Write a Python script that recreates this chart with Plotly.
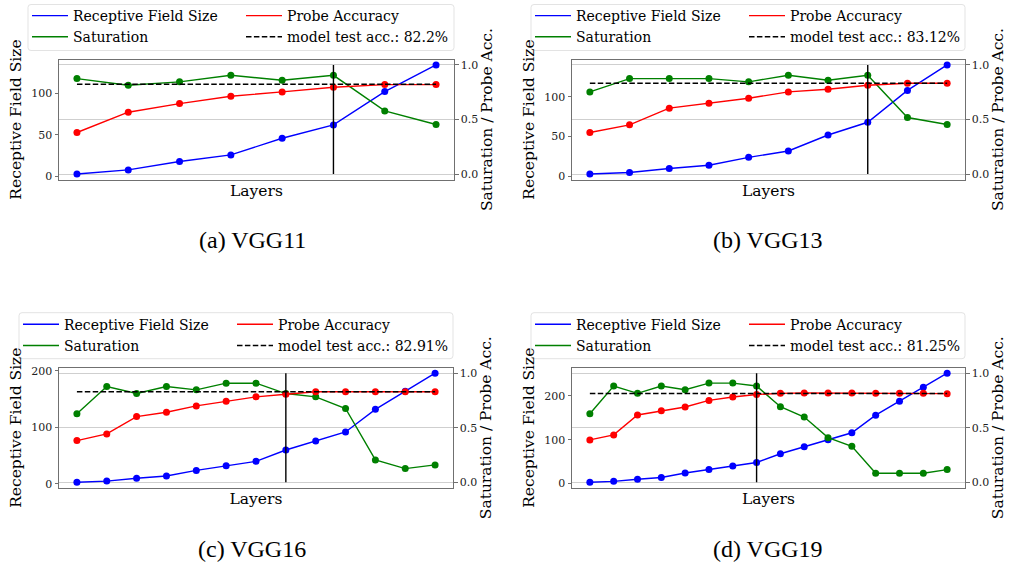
import plotly.graph_objects as go

# ---------------- data ----------------
model_names = ["VGG11", "VGG13", "VGG16", "VGG19"]
captions = ["(a) VGG11", "(b) VGG13", "(c) VGG16", "(d) VGG19"]

rf_vgg11 = [3, 8, 18, 26, 46, 62, 102, 134]
sat_vgg11 = [0.875, 0.814, 0.845, 0.905, 0.860, 0.905, 0.579, 0.454]
acc_vgg11 = [0.381, 0.567, 0.646, 0.713, 0.753, 0.796, 0.820, 0.820]

rf_vgg13 = [3, 5, 10, 14, 24, 32, 52, 68, 108, 140]
sat_vgg13 = [0.753, 0.875, 0.875, 0.875, 0.845, 0.905, 0.860, 0.905, 0.518, 0.454]
acc_vgg13 = [0.381, 0.451, 0.604, 0.649, 0.695, 0.753, 0.777, 0.814, 0.832, 0.832]

rf_vgg16 = [3, 5, 10, 14, 24, 32, 40, 60, 76, 92, 132, 164, 196]
sat_vgg16 = [0.627, 0.878, 0.813, 0.878, 0.847, 0.908, 0.908, 0.813, 0.783, 0.676, 0.205, 0.125, 0.159]
acc_vgg16 = [0.382, 0.443, 0.602, 0.642, 0.700, 0.743, 0.783, 0.807, 0.829, 0.829, 0.829, 0.829, 0.829]

rf_vgg19 = [3, 5, 10, 14, 24, 32, 40, 48, 68, 84, 100, 116, 156, 188, 220, 252]
sat_vgg19 = [0.628, 0.882, 0.815, 0.882, 0.848, 0.909, 0.909, 0.882, 0.692, 0.598, 0.409, 0.330, 0.082, 0.082, 0.082, 0.116]
acc_vgg19 = [0.388, 0.434, 0.617, 0.656, 0.690, 0.750, 0.781, 0.805, 0.815, 0.818, 0.818, 0.818, 0.815, 0.815, 0.815, 0.812]

test_acc = [0.822, 0.8312, 0.8291, 0.8125]
test_acc_labels = ["82.2%", "83.12%", "82.91%", "81.25%"]
cut_layer = [5, 7, 7, 7]
cut_span = [0.0, 1.0]

left_ticks = [[0, 50, 100], [0, 50, 100], [0, 100, 200], [0, 100, 200]]
right_ticks = [0.0, 0.5, 1.0]
right_tick_text = ["0.0", "0.5", "1.0"]

rf_all = [rf_vgg11, rf_vgg13, rf_vgg16, rf_vgg19]
sat_all = [sat_vgg11, sat_vgg13, sat_vgg16, sat_vgg19]
acc_all = [acc_vgg11, acc_vgg13, acc_vgg16, acc_vgg19]

# ---------------- layout (pixels) ----------------
W, H = 1009, 565
BLUE, GREEN, RED = "#0000ff", "#008000", "#ff0000"
FRAME = "#707070"
GRID = "#cfcfcf"
SERIF = "DejaVu Serif"

panel_px = [
    dict(x0=59, x1=454, y0=59.5, y1=179.5, leg_l=27, leg_t=0, box=(28, 4.5, 454, 50.5), cap=(252.5, 240)),
    dict(x0=572, x1=965, y0=59.5, y1=179.5, leg_l=530, leg_t=0, box=(531, 4.5, 965, 50.5), cap=(768, 240)),
    dict(x0=59, x1=453, y0=367.7, y1=487.7, leg_l=18, leg_t=308.7, box=(19, 312.7, 453, 358.7), cap=(252.5, 548.5)),
    dict(x0=572, x1=965, y0=367.7, y1=487.7, leg_l=530, leg_t=308.7, box=(531, 312.7, 965, 358.7), cap=(768, 548.5)),
]
COL2_OFFSET = 214


def fx(p):
    return p / W


def fy(p):
    return 1 - p / H


def pad_range(vals, frac=0.05):
    lo, hi = min(vals), max(vals)
    d = (hi - lo) * frac
    return [lo - d, hi + d]


def rounded_box(x0, y0, x1, y1, r=3):
    pts = [
        ("M", x0 + r, y0), ("L", x1 - r, y0), ("Q", x1, y0, x1, y0 + r),
        ("L", x1, y1 - r), ("Q", x1, y1, x1 - r, y1),
        ("L", x0 + r, y1), ("Q", x0, y1, x0, y1 - r),
        ("L", x0, y0 + r), ("Q", x0, y0, x0 + r, y0),
    ]
    out = []
    for seg in pts:
        cmd, coords = seg[0], seg[1:]
        pairs = []
        for k in range(0, len(coords), 2):
            pairs.append(f"{fx(coords[k]):.6f},{fy(coords[k + 1]):.6f}")
        out.append(cmd + " ".join(pairs))
    return " ".join(out) + " Z"


fig = go.Figure()
layout = dict(
    width=W, height=H, autosize=False,
    margin=dict(l=0, r=0, t=0, b=0, autoexpand=False),
    paper_bgcolor="white", plot_bgcolor="white",
    font=dict(family=SERIF, color="#000000", size=11),
    shapes=[], annotations=[],
)

for i in range(4):
    p = panel_px[i]
    rf, sat, acc = rf_all[i], sat_all[i], acc_all[i]
    n = len(rf)
    layers = list(range(n))
    xid = "x" if i == 0 else f"x{i + 1}"
    yl = "y" if i == 0 else f"y{2 * i + 1}"
    yr = f"y{2 * i + 2}"
    xkey = "xaxis" if i == 0 else f"xaxis{i + 1}"
    ylkey = "yaxis" if i == 0 else f"yaxis{2 * i + 1}"
    yrkey = f"yaxis{2 * i + 2}"
    leg1 = "legend" if i == 0 else f"legend{2 * i + 1}"
    leg2 = f"legend{2 * i + 2}"

    line_w = 1.4
    msize = 7

    # receptive field (left axis)
    fig.add_trace(go.Scatter(x=layers, y=rf, mode="lines", name="Receptive Field Size",
                             line=dict(color=BLUE, width=line_w), xaxis=xid, yaxis=yl,
                             legend=leg1, showlegend=True, hoverinfo="skip"))
    fig.add_trace(go.Scatter(x=layers, y=rf, mode="markers", marker=dict(color=BLUE, size=msize),
                             xaxis=xid, yaxis=yl, showlegend=False, hoverinfo="skip"))
    # saturation (right axis)
    fig.add_trace(go.Scatter(x=layers, y=sat, mode="lines", name="Saturation",
                             line=dict(color=GREEN, width=line_w), xaxis=xid, yaxis=yr,
                             legend=leg1, showlegend=True, hoverinfo="skip"))
    fig.add_trace(go.Scatter(x=layers, y=sat, mode="markers", marker=dict(color=GREEN, size=msize),
                             xaxis=xid, yaxis=yr, showlegend=False, hoverinfo="skip"))
    # probe accuracy (right axis)
    fig.add_trace(go.Scatter(x=layers, y=acc, mode="lines", name="Probe Accuracy",
                             line=dict(color=RED, width=line_w), xaxis=xid, yaxis=yr,
                             legend=leg2, showlegend=True, hoverinfo="skip"))
    fig.add_trace(go.Scatter(x=layers, y=acc, mode="markers", marker=dict(color=RED, size=msize),
                             xaxis=xid, yaxis=yr, showlegend=False, hoverinfo="skip"))
    # model test accuracy dashed
    fig.add_trace(go.Scatter(x=[layers[0], layers[-1]], y=[test_acc[i], test_acc[i]], mode="lines",
                             name=f"model test acc.: {test_acc_labels[i]}",
                             line=dict(color="black", width=1.5, dash="5.5px,2.4px"),
                             xaxis=xid, yaxis=yr, legend=leg2, showlegend=True, hoverinfo="skip"))
    # vertical cut line
    fig.add_trace(go.Scatter(x=[cut_layer[i], cut_layer[i]], y=cut_span, mode="lines",
                             line=dict(color="black", width=1.4), xaxis=xid, yaxis=yr,
                             showlegend=False, hoverinfo="skip"))

    xr = pad_range(layers)
    ylr = pad_range(rf)
    yrr = pad_range(sat + acc + [test_acc[i]] + cut_span)

    layout[xkey] = dict(domain=[fx(p["x0"]), fx(p["x1"])], range=xr, anchor=yl,
                        showgrid=False, zeroline=False, showticklabels=False, ticks="",
                        showline=True, mirror=True, linecolor=FRAME, linewidth=1,
                        title=dict(text="Layers", font=dict(size=15.5, family=SERIF), standoff=5))
    layout[ylkey] = dict(domain=[fy(p["y1"]), fy(p["y0"])], range=ylr, anchor=xid,
                         tickvals=left_ticks[i], ticks="outside", ticklen=3.5, tickwidth=1,
                         tickcolor=FRAME, showgrid=False, zeroline=False,
                         showline=True, linecolor=FRAME, linewidth=1,
                         tickfont=dict(size=11, family=SERIF, color="#222222"),
                         title=dict(text="Receptive Field Size", font=dict(size=15.5, family=SERIF), standoff=5))
    layout[yrkey] = dict(overlaying=yl, side="right", range=yrr, anchor=xid,
                         tickvals=right_ticks, ticktext=right_tick_text, ticks="outside", ticklen=3.5,
                         tickwidth=1, tickcolor=FRAME, showgrid=True, gridcolor=GRID, gridwidth=1,
                         zeroline=False, showline=True, linecolor=FRAME, linewidth=1,
                         tickfont=dict(size=11, family=SERIF, color="#222222"),
                         title=dict(text="Saturation / Probe Acc.", font=dict(size=15.5, family=SERIF), standoff=2))

    legend_common = dict(orientation="v", xanchor="left", yanchor="top", bgcolor="rgba(0,0,0,0)",
                         borderwidth=0, itemwidth=36, font=dict(size=14, family=SERIF, color="#000000"),
                         traceorder="normal", tracegroupgap=0)
    layout[leg1] = dict(x=fx(p["leg_l"]), y=fy(p["leg_t"]), **legend_common)
    layout[leg2] = dict(x=fx(p["leg_l"] + COL2_OFFSET), y=fy(p["leg_t"]), **legend_common)

    bx0, by0, bx1, by1 = p["box"]
    layout["shapes"].append(dict(type="path", xref="paper", yref="paper",
                                 path=rounded_box(bx0, by0, bx1, by1),
                                 line=dict(color="#e3e3e3", width=1),
                                 fillcolor="rgba(255,255,255,0.8)", layer="below"))

    cx, cy = p["cap"]
    layout["annotations"].append(dict(text=captions[i], xref="paper", yref="paper",
                                      x=fx(cx), y=fy(cy), xanchor="center", yanchor="middle",
                                      showarrow=False,
                                      font=dict(family="Liberation Serif", size=24, color="black")))

fig.update_layout(**layout)
fig.write_html("out.html",
               config={"displayModeBar": False, "staticPlot": True},
               post_script="document.body.style.margin='0px';document.body.style.overflow='hidden';")
